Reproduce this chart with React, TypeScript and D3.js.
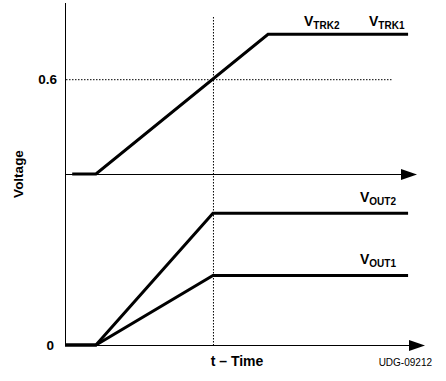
import React from "react";
import * as d3 from "d3";

// time units (arbitrary, 0..100)
const trkTimes = [2, 8.6, 56.4, 95.3];
const trkValues = [0, 0, 0.884, 0.884];
const out2Times = [0, 8.6, 41.1, 95.3];
const out2Values = [0, 0, 0.834, 0.834];
const out1Times = [0, 8.6, 41.1, 95.3];
const out1Values = [0, 0, 0.44, 0.44];
const trackTime = 41.1;
const trackLevel = 0.6;
const yTickLabels = ["0.6", "0"];

const W = 446;
const H = 381;
const FONT = "'Liberation Sans', Arial, sans-serif";

export default function App() {
  const x = d3.scaleLinear().domain([0, 100]).range([65, 425]);
  const yTop = d3.scaleLinear().domain([0, 1]).range([174, 16]);
  const yBot = d3.scaleLinear().domain([0, 1]).range([345, 187]);

  const mk = (ts: number[], vs: number[], ys: d3.ScaleLinear<number, number>) =>
    d3
      .line<number>()
      .x((_, i) => x(ts[i]))
      .y((v) => ys(v))(vs) as string;

  const trkPath = mk(trkTimes, trkValues, yTop);
  const out2Path = mk(out2Times, out2Values, yBot);
  const out1Path = mk(out1Times, out1Values, yBot);

  const xTrack = x(trackTime);
  const yTrack = yTop(trackLevel);

  const sub = (main: string, s: string, px: number, py: number) => (
    <text x={px} y={py} fontFamily={FONT} fontWeight="bold" fontSize={14} fill="#000">
      {main}
      <tspan fontSize={10} dy={3}>
        {s}
      </tspan>
    </text>
  );

  return (
    <svg
      width={W}
      height={H}
      style={{ position: "absolute", left: 0, top: 0 }}
      viewBox={`0 0 ${W} ${H}`}
    >
      <rect width={W} height={H} fill="#fff" />
      {/* vertical axis */}
      <line x1={65.5} y1={3} x2={65.5} y2={346} stroke="#000" strokeWidth={1} />
      {/* top horizontal axis */}
      <line x1={65} y1={174.5} x2={402} y2={174.5} stroke="#000" strokeWidth={1} />
      <path d="M401,169 L417,174.5 L401,180 Z" fill="#000" />
      {/* bottom horizontal axis */}
      <line x1={65} y1={345.5} x2={410} y2={345.5} stroke="#000" strokeWidth={1} />
      <path d="M409,340 L425,345.5 L409,351 Z" fill="#000" />
      {/* dotted guides */}
      <line
        x1={xTrack + 0.5}
        y1={17}
        x2={xTrack + 0.5}
        y2={345}
        stroke="#000"
        strokeWidth={1}
        strokeDasharray="1.5,1.5"
      />
      <line
        x1={66}
        y1={yTrack + 0.5}
        x2={393}
        y2={yTrack + 0.5}
        stroke="#000"
        strokeWidth={1}
        strokeDasharray="1.5,1.5"
      />
      {/* curves */}
      <path d={trkPath} fill="none" stroke="#000" strokeWidth={3} strokeLinejoin="miter" />
      <path d={out2Path} fill="none" stroke="#000" strokeWidth={3} />
      <path d={out1Path} fill="none" stroke="#000" strokeWidth={3} />
      {/* labels */}
      {sub("V", "TRK2", 304, 26)}
      {sub("V", "TRK1", 369, 26)}
      {sub("V", "OUT2", 360, 202)}
      {sub("V", "OUT1", 360, 264)}
      <text x={57} y={79} dy="0.35em" textAnchor="end" fontFamily={FONT} fontWeight="bold" fontSize={13.5}>
        {yTickLabels[0]}
      </text>
      <text x={54} y={yBot(0)} dy="0.35em" textAnchor="end" fontFamily={FONT} fontWeight="bold" fontSize={13.5}>
        {yTickLabels[1]}
      </text>
      <text
        transform="translate(23,174) rotate(-90)"
        textAnchor="middle"
        fontFamily={FONT}
        fontWeight="bold"
        fontSize={13.5}
      >
        Voltage
      </text>
      <text x={237} y={366} textAnchor="middle" fontFamily={FONT} fontWeight="bold" fontSize={14}>
        t – Time
      </text>
      <text x={432} y={366} textAnchor="end" fontFamily={FONT} fontSize={10}>
        UDG-09212
      </text>
    </svg>
  );
}
